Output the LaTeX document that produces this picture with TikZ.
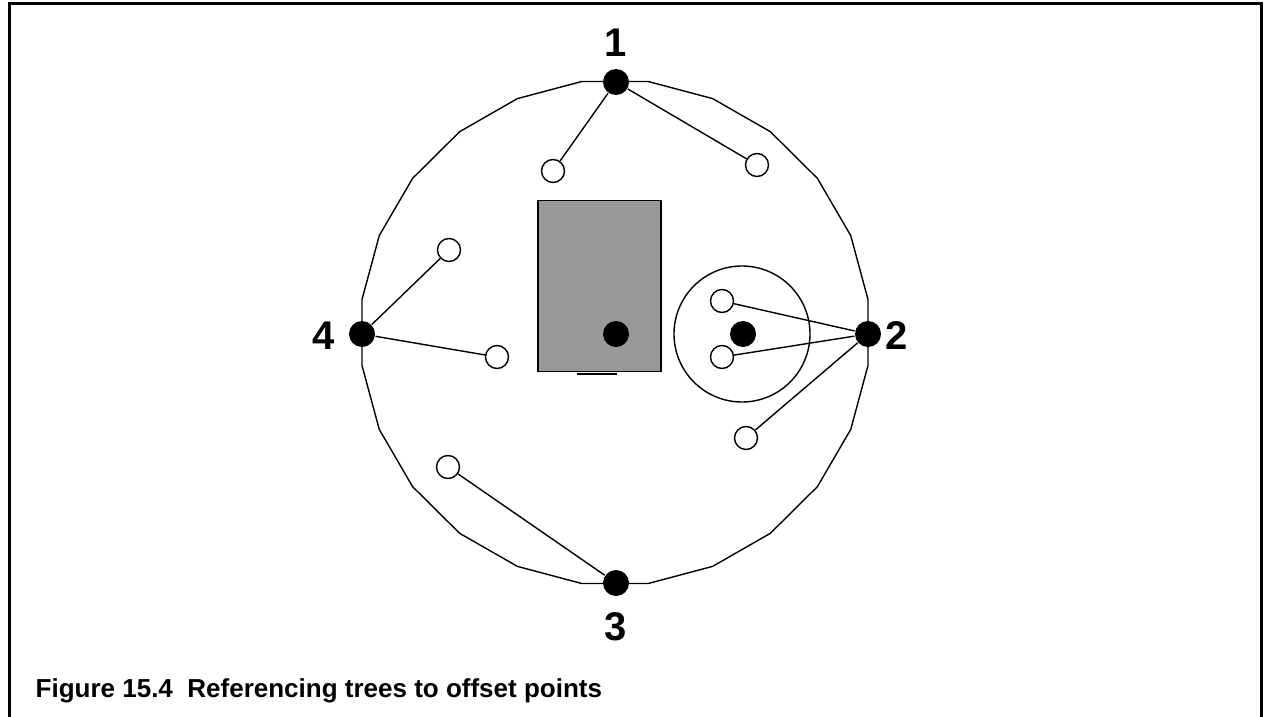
\documentclass[tikz,border=0pt]{standalone}
\usepackage{fontspec}
\setmainfont{Liberation Sans}
\definecolor{plotgray}{HTML}{999999}
\begin{document}
\begin{tikzpicture}[x=1pt,y=-1pt,
  line width=1.4pt,
  station/.style={circle,fill=black,inner sep=0pt,minimum size=26pt},
  tree/.style={circle,draw=black,fill=white,inner sep=0pt,minimum size=23pt,line width=1.4pt},
  lbl/.style={font=\fontsize{40}{40}\selectfont\bfseries,inner sep=0pt,anchor=base},
  link/.style={line width=1.4pt}]
\useasboundingbox (0,0) rectangle (1264,717);

% open frame (top, left and right sides)
\draw[line width=3pt] (9,717) -- (9,4) -- (1261,4) -- (1261,717);

% 24-sided boundary of the plot area
\draw[line width=1.4pt] plot[samples=25,domain=0:24,variable=\k]
  ({615+253/cos(7.5)*cos(7.5+15*\k)},{332.5-251/cos(7.5)*sin(7.5+15*\k)}) -- cycle;

% gray plot with its centre point
\node[draw,fill=plotgray,line width=1.4pt,minimum width=123pt,minimum height=171pt,inner sep=0pt] (plot) at (599.5,286) {};
\draw[line width=2pt] (577,373.5) -- (617,373.5);
\node[station] (c0) at (616,334) {};

% small circular plot
\node[circle,draw,line width=1.4pt,minimum size=136pt,inner sep=0pt] (zone) at (742,334) {};
\node[station] (c2) at (743,334) {};

% reference stations
\node[station] (p1) at (616,82) {};
\node[station] (p2) at (868,334) {};
\node[station] (p3) at (616,583) {};
\node[station] (p4) at (362,334) {};

% trees
\node[tree] (t1a) at (553,171) {};
\node[tree] (t1b) at (757,165) {};
\node[tree] (t2a) at (722,301) {};
\node[tree] (t2b) at (722,357) {};
\node[tree] (t2c) at (746,438) {};
\node[tree] (t3a) at (448,467) {};
\node[tree] (t4a) at (449,250) {};
\node[tree] (t4b) at (497,357) {};

% references from stations to trees
\draw[link] (p1) -- (t1a);
\draw[link] (p1) -- (t1b);
\draw[link] (p2) -- (t2a);
\draw[link] (p2) -- (t2b);
\draw[link] (p2) -- (t2c);
\draw[link] (p3) -- (t3a);
\draw[link] (p4) -- (t4a);
\draw[link] (p4) -- (t4b);

% station numbers
\node[lbl] (n1) at (616,57) {1};
\node[lbl] (n2) at (897,349) {2};
\node[lbl] (n3) at (616,640) {3};
\node[lbl] (n4) at (324,349) {4};

% caption
\node[anchor=base west,inner sep=0pt,font=\fontsize{26}{26}\selectfont\bfseries] (cap) at (35,697)
  {Figure 15.4\ \ Referencing trees to offset points};
\end{tikzpicture}
\end{document}
